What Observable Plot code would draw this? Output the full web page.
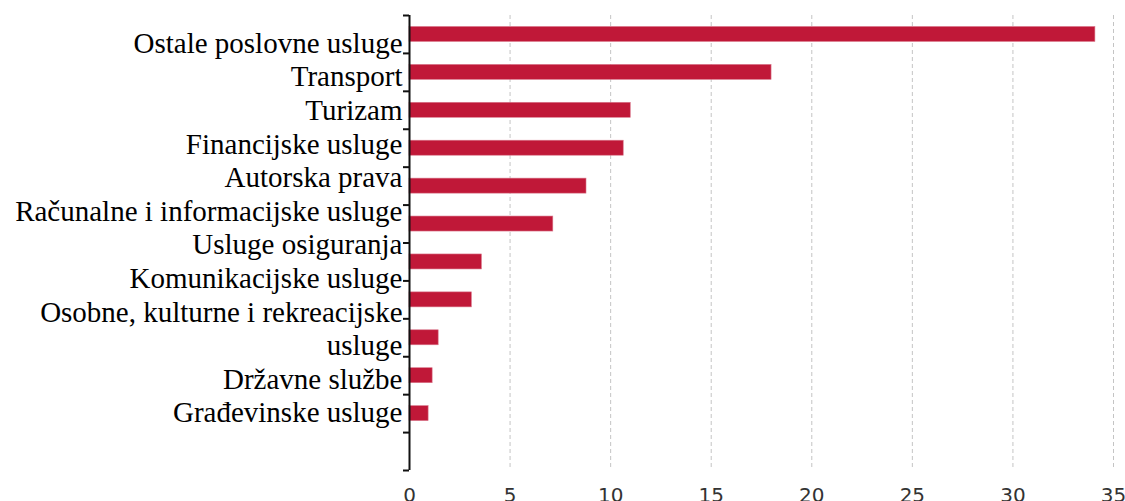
<!DOCTYPE html>
<html>
<head>
<meta charset="utf-8">
<script src="https://cdn.jsdelivr.net/npm/d3@7"></script>
<script src="https://cdn.jsdelivr.net/npm/@observablehq/plot@0.6"></script>
<style>
  html, body { margin: 0; padding: 0; background: #fff; }
  #chart svg { display: block; }
</style>
</head>
<body>
<div id="chart"></div>
<script>
// Categories (top to bottom) and values
const categories = [
  "Ostale poslovne usluge",
  "Transport",
  "Turizam",
  "Financijske usluge",
  "Autorska prava",
  "Računalne i informacijske usluge",
  "Usluge osiguranja",
  "Komunikacijske usluge",
  "Osobne, kulturne i rekreacijske\nusluge",
  "Državne službe",
  "Građevinske usluge"
];
const values = [34.1, 18.0, 11.0, 10.65, 8.8, 7.15, 3.6, 3.1, 1.45, 1.15, 0.95];
const xTicks = [0, 5, 10, 15, 20, 25, 30, 35];

// Layout
const nBands = categories.length + 1;          // one empty band at the bottom
const bandPx = (470 - 15) / nBands;            // pixel height of one band
const barHalf = 7.5 / bandPx;                  // half bar thickness in band units
const lineStep = 33.6 / bandPx;                // label line spacing in band units
const firstBaseline = (52.3 - 15) / bandPx - 0.5;

const bars = categories.map((c, i) => ({category: c, value: values[i], i}));
let lineCursor = 0;
const labels = categories.map((c, i) => {
  const n = c.split("\n").length;
  lineCursor += n;
  return {label: c, pos: firstBaseline + (lineCursor - 1) * lineStep};
});
const edges = d3.range(nBands + 1).map(k => k - 0.5);

const chart = Plot.plot({
  width: 1125,
  height: 501,
  marginLeft: 409,
  marginRight: 12,
  marginTop: 15,
  marginBottom: 31,
  style: {background: "#fff", overflow: "visible"},
  x: {domain: [0, 35]},
  y: {domain: [-0.5, nBands - 0.5], reverse: true, axis: null},
  marks: [
    Plot.ruleX(xTicks.filter(t => t > 0), {
      y1: -0.5, y2: nBands - 0.5,
      stroke: "#c4c4c4", strokeWidth: 1, strokeDasharray: "4 3"
    }),
    Plot.rectX(bars, {
      x1: 0, x2: "value",
      y1: d => d.i - barHalf, y2: d => d.i + barHalf,
      fill: "#c01838", stroke: "#d9788c", strokeWidth: 0.6
    }),
    Plot.ruleX([0], {y1: -0.5, y2: nBands - 0.5, stroke: "#111", strokeWidth: 2}),
    Plot.axisY({
      ticks: edges, tickSize: 6, tickFormat: () => "", label: null,
      stroke: "#111", strokeWidth: 2, anchor: "left"
    }),
    Plot.axisX({
      ticks: xTicks, tickSize: 0, tickPadding: 17,
      fontSize: 20, fontFamily: "'Liberation Sans Narrow', 'Arial Narrow', 'DejaVu Sans', sans-serif",
      fill: "#333", label: null, ariaLabel: "x-axis tick label"
    }),
    Plot.text(labels, {
      y: "pos", text: "label", frameAnchor: "left", dx: -7,
      textAnchor: "end", lineAnchor: "bottom", lineHeight: 33.6 / 29,
      fontSize: 29, fontFamily: "'Liberation Serif', 'Times New Roman', serif",
      fill: "#000"
    })
  ]
});
// condense the x tick labels (narrow font look)
d3.select(chart).selectAll("g[aria-label='x-axis tick label'] text").each(function() {
  const t = this.getAttribute("transform") || "";
  this.setAttribute("transform", t + " scale(0.72,1)");
});
document.getElementById("chart").appendChild(chart);
</script>
</body>
</html>
